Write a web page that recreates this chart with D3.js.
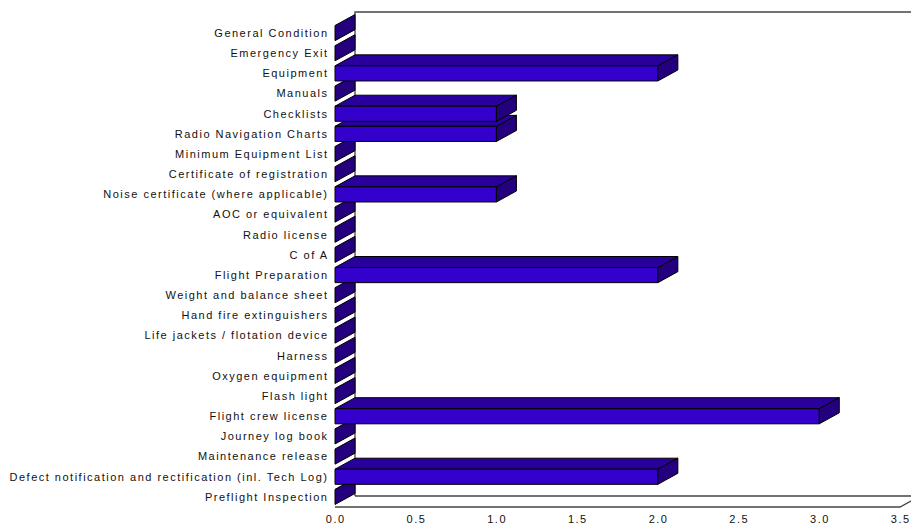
<!DOCTYPE html>
<html>
<head>
<meta charset="utf-8">
<script src="https://cdn.jsdelivr.net/npm/d3@7"></script>
<style>
  body { margin: 0; background: #fff; }
  text { font-family: "Liberation Sans", Arial, sans-serif; }
</style>
</head>
<body>
<script>
// categories top to bottom
var categories = [
  "General Condition",
  "Emergency Exit",
  "Equipment",
  "Manuals",
  "Checklists",
  "Radio Navigation Charts",
  "Minimum Equipment List",
  "Certificate of registration",
  "Noise certificate (where applicable)",
  "AOC or equivalent",
  "Radio license",
  "C of A",
  "Flight Preparation",
  "Weight and balance sheet",
  "Hand fire extinguishers",
  "Life jackets / flotation device",
  "Harness",
  "Oxygen equipment",
  "Flash light",
  "Flight crew license",
  "Journey log book",
  "Maintenance release",
  "Defect notification and rectification (inl. Tech Log)",
  "Preflight Inspection"
];
var values = [0, 0, 2, 0, 1, 1, 0, 0, 1, 0, 0, 0, 2, 0, 0, 0, 0, 0, 0, 3, 0, 0, 2, 0];
var xTicks = [0, 0.5, 1, 1.5, 2, 2.5, 3, 3.5];

var w = 911, h = 526;
var plotLeft = 335, plotRight = 900, plotTop = 23, plotBottom = 507;
var dx = 20, dy = 11; // depth offset

var svg = d3.select("body").append("svg")
  .attr("width", w)
  .attr("height", h);

var xScale = d3.scaleLinear().domain([0, 3.5]).range([plotLeft, plotRight]);
var yScale = d3.scaleBand().domain(categories).range([plotTop, plotBottom])
  .paddingInner(0.25).paddingOuter(0.125);

// frame: back wall and floor
var frame = svg.append("g").attr("fill", "none").attr("stroke", "#444").attr("stroke-width", 1.3);
frame.append("path").attr("d", "M" + (w + 5) + "," + (plotTop - dy) + "L" + (plotLeft + dx) + "," + (plotTop - dy) + "L" + (plotLeft + dx) + "," + (plotBottom - dy));
frame.append("path").attr("d", "M" + (plotLeft + dx) + "," + (plotBottom - dy) + "L" + (plotRight + dx) + "," + (plotBottom - dy));
frame.append("path").attr("d", "M" + plotLeft + "," + plotBottom + "L" + plotRight + "," + plotBottom + "L" + (plotRight + dx) + "," + (plotBottom - dy));

// bars, drawn bottom first so upper bars cover lower top faces
var data = categories.map(function(c, i) { return {name: c, value: values[i]}; }).reverse();

var bars = svg.append("g").selectAll("g")
  .data(data)
  .enter().append("g")
  .attr("stroke", "#000")
  .attr("stroke-width", 1)
  .attr("stroke-linejoin", "round");

function pts(arr) { return arr.map(function(p) { return p.join(","); }).join(" "); }

// top face
bars.filter(function(d) { return d.value > 0; }).append("polygon")
  .attr("fill", "#2a009c")
  .attr("points", function(d) {
    var x0 = xScale(0), x1 = xScale(d.value), y0 = yScale(d.name);
    return pts([[x0, y0], [x0 + dx, y0 - dy], [x1 + dx, y0 - dy], [x1, y0]]);
  });
// front face
bars.filter(function(d) { return d.value > 0; }).append("rect")
  .attr("fill", "#3300cc")
  .attr("x", xScale(0))
  .attr("y", function(d) { return yScale(d.name); })
  .attr("width", function(d) { return xScale(d.value) - xScale(0); })
  .attr("height", yScale.bandwidth());
// side face
bars.append("polygon")
  .attr("fill", "#24007e")
  .attr("points", function(d) {
    var x1 = xScale(d.value), y0 = yScale(d.name), y1 = y0 + yScale.bandwidth();
    return pts([[x1, y0], [x1 + dx, y0 - dy], [x1 + dx, y1 - dy], [x1, y1]]);
  });

// category labels
svg.append("g").selectAll("text")
  .data(categories)
  .enter().append("text")
  .attr("x", 328.5)
  .attr("y", function(d) { return yScale(d) + yScale.bandwidth() / 2; })
  .attr("dy", "0.35em")
  .attr("text-anchor", "end")
  .attr("font-size", "11px")
  .attr("letter-spacing", "1.5px")
  .attr("fill", "#111")
  .text(function(d) { return d; });

// x axis labels
svg.append("g").selectAll("text")
  .data(xTicks)
  .enter().append("text")
  .attr("x", function(d) { return xScale(d) + 0.7; })
  .attr("y", 523)
  .attr("text-anchor", "middle")
  .attr("font-size", "11px")
  .attr("letter-spacing", "1.5px")
  .attr("fill", "#111")
  .text(function(d) { return d3.format(".1f")(d); });
</script>
</body>
</html>
